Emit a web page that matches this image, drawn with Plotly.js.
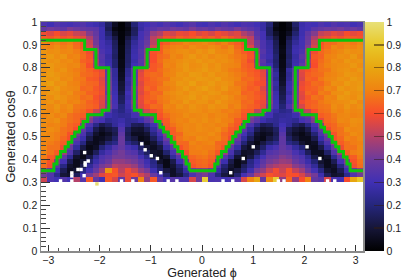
<!DOCTYPE html>
<html><head><meta charset="utf-8">
<script src="https://cdn.plot.ly/plotly-3.0.1.min.js"></script>
<style>html,body{margin:0;padding:0;background:#fff}#c{width:413px;height:280px}</style>
</head><body><div id="c"></div>
<script>
// efficiency in percent, rows from cos=0.98-1.00 (top) down to 0.30-0.32 (bottom); 50 phi bins
const r00=[33,30,34,32,31,33,34,31,29,26,16,6,1,6,19,28,30,33,31,34,32,30,33,35,31,30,33,31,34,32,30,33,32,30,27,19,5,1,4,17,28,31,30,33,31,34,32,33,30,32];
const r01=[38,41,39,37,42,40,38,37,36,29,14,3,1,4,15,27,33,36,39,38,41,40,38,42,39,40,37,41,39,38,42,38,36,33,27,16,3,1,3,14,29,31,36,38,40,39,41,38,40,37];
const r02=[59,56,60,55,57,53,51,43,38,29,18,7,2,6,16,31,35,46,49,56,54,58,57,60,56,58,55,59,57,54,56,49,45,35,31,16,7,2,6,18,29,37,43,52,54,57,55,60,57,59];
const r03=[63,61,64,60,62,59,57,49,40,29,22,12,2,11,21,31,37,51,55,61,59,63,61,62,64,61,63,60,64,61,58,55,51,37,31,21,11,2,12,22,30,39,49,57,59,62,60,63,62,61];
const r04=[71,68,70,67,69,65,61,53,41,31,26,15,2,14,25,33,39,51,60,63,67,68,71,69,70,72,69,67,70,66,63,59,52,41,33,26,14,2,15,25,31,40,53,61,65,66,69,70,68,71];
const r05=[72,70,73,69,71,66,62,55,43,31,28,16,3,15,27,33,41,54,63,67,70,71,69,73,71,70,73,71,68,72,65,61,56,42,33,27,15,3,16,28,31,43,55,62,66,71,69,72,70,73];
const r06=[75,73,74,71,72,69,65,59,47,33,29,17,3,16,28,35,45,61,63,69,71,73,74,72,75,73,76,72,71,73,67,63,60,46,35,28,16,4,17,29,33,47,59,65,68,70,72,75,73,74];
const r07=[74,76,73,75,70,71,66,61,45,35,27,16,3,17,29,34,47,60,65,67,72,70,74,76,73,75,72,74,73,70,68,66,61,48,33,29,18,3,16,27,36,44,62,64,70,71,74,73,76,72];
const r08=[76,74,75,72,73,70,64,62,48,34,28,18,4,17,28,36,46,60,66,70,71,73,75,74,76,74,75,73,74,72,69,65,59,46,36,27,17,4,18,28,34,48,61,66,69,73,72,76,74,75];
const r09=[75,76,74,73,71,72,67,60,47,36,29,18,4,18,30,35,48,62,64,71,70,74,76,73,74,76,73,75,72,71,70,64,62,49,34,30,18,4,17,29,37,46,60,67,70,72,73,74,76,73];
const r10=[74,76,73,75,71,69,67,64,61,57,37,25,5,23,39,55,63,62,66,69,71,73,76,74,75,77,74,75,72,69,68,65,63,61,56,39,23,5,26,38,57,61,64,67,68,72,74,75,73,76];
const r11=[75,77,75,73,72,70,66,65,63,58,39,25,6,24,38,57,64,66,65,70,71,75,74,77,76,74,76,73,74,71,69,67,64,62,57,37,26,6,24,40,56,63,65,66,70,71,73,76,75,74];
const r12=[77,75,76,72,73,69,68,63,62,56,40,26,7,27,39,58,62,65,67,68,73,74,76,75,77,76,75,77,73,72,70,65,66,63,58,38,24,7,25,41,55,64,63,68,71,72,75,74,77,75];
const r13=[76,78,74,75,71,70,67,65,64,57,41,27,9,25,40,56,63,64,66,71,72,76,75,78,74,75,77,74,75,73,68,67,64,61,59,40,27,8,28,39,58,62,66,65,69,74,73,77,75,76];
const r14=[75,74,77,73,72,71,65,66,62,58,42,28,10,27,43,57,65,63,68,69,71,74,77,74,76,78,75,73,76,71,70,66,63,64,56,41,25,11,29,41,59,63,64,67,72,70,76,74,75,77];
const r15=[74,76,75,72,74,69,68,64,63,59,40,29,12,30,42,56,62,66,65,72,73,75,73,76,75,74,76,75,72,70,71,64,65,62,58,43,28,12,27,42,57,65,63,69,68,73,74,77,74,75];
const r16=[75,73,76,74,71,70,66,67,61,57,44,30,15,28,41,58,63,65,68,70,72,74,75,77,74,76,74,73,75,72,69,67,65,63,59,42,29,14,31,43,56,62,67,66,71,70,76,75,73,76];
const r17=[73,75,72,74,70,71,68,64,62,56,42,31,16,30,44,57,64,62,67,69,73,72,76,73,75,75,72,76,73,71,70,65,66,61,58,44,30,16,29,41,59,63,64,68,70,72,73,74,76,72];
const r18=[74,72,75,71,73,68,67,65,63,55,43,32,20,29,42,56,61,66,65,71,70,74,72,75,73,72,75,73,74,69,71,66,64,62,57,41,31,19,33,44,55,63,65,67,68,73,71,75,72,74];
const r19=[73,71,74,70,72,67,65,61,53,50,35,25,21,27,33,48,54,59,63,69,70,71,72,74,73,71,73,72,69,70,68,63,62,51,52,33,27,22,24,36,49,52,60,66,67,72,70,73,71,72];
const r20=[71,73,70,72,67,65,63,47,37,34,29,26,24,25,31,32,39,45,61,66,69,70,73,71,72,73,70,72,71,68,67,61,45,39,32,31,24,25,26,29,34,37,47,63,65,68,71,72,70,71];
const r21=[73,72,74,69,67,65,57,43,34,31,24,26,28,24,25,29,36,41,59,63,69,71,70,73,72,74,71,73,70,69,63,59,41,36,29,25,24,27,26,24,31,34,43,57,65,67,72,71,74,73];
const r22=[73,70,71,69,65,63,43,33,22,13,17,25,31,24,15,14,23,31,41,62,67,70,72,71,73,71,72,70,71,66,62,41,33,23,14,16,23,30,25,17,13,22,32,43,63,65,69,70,73,72];
const r23=[71,73,71,67,65,60,37,27,13,7,11,15,34,16,9,8,15,26,36,61,63,69,72,71,73,72,71,73,68,63,61,36,26,14,8,10,16,32,15,10,7,13,27,37,59,65,67,73,71,72];
const r24=[73,71,69,67,61,42,33,19,8,4,7,13,37,14,6,6,9,21,31,43,63,65,71,72,71,71,73,70,65,62,41,31,21,8,5,7,14,35,13,7,4,8,19,33,42,61,67,69,73,71];
const r25=[71,71,69,65,60,37,28,13,5,6,10,17,39,16,11,4,6,15,26,39,59,67,70,69,73,72,70,71,66,59,39,26,15,6,4,11,16,37,17,10,5,5,13,28,38,61,65,71,69,72];
const r26=[71,69,67,63,46,32,21,7,5,9,18,22,39,23,17,11,4,9,19,34,46,65,65,71,69,70,71,65,64,46,34,19,9,4,11,18,23,37,22,18,9,5,7,21,33,46,63,67,69,70];
const r27=[71,67,67,59,39,26,12,4,7,19,26,34,38,32,28,17,9,6,11,27,37,61,65,69,70,69,69,66,61,37,27,11,6,8,17,28,32,38,34,26,19,7,5,12,26,39,59,67,67,71];
const r28=[71,67,63,47,34,17,6,6,15,26,32,38,41,36,34,24,16,8,7,18,32,45,61,69,69,70,67,62,46,32,18,7,8,15,24,34,36,39,38,32,26,15,6,6,17,34,47,63,69,71];
const r29=[69,63,59,37,24,8,4,12,24,33,36,41,41,39,38,31,23,11,5,9,25,35,57,65,67,68,65,57,35,25,9,5,11,23,31,38,39,43,41,36,33,24,12,4,8,24,37,59,63,69];
const r30=[67,61,43,31,14,5,9,19,28,35,39,45,45,43,41,36,29,21,8,4,13,29,41,63,65,66,63,41,29,13,4,8,21,29,36,41,43,46,45,39,35,28,19,9,5,14,31,43,61,67];
const r31=[66,59,36,21,8,5,13,25,34,41,44,51,49,49,46,39,32,23,15,4,9,19,34,61,64,65,61,35,19,9,4,15,23,32,39,46,49,51,51,44,41,34,25,13,5,8,21,36,59,66];
const r32=[46,39,29,14,6,9,21,31,39,47,75,61,51,59,53,45,41,29,19,11,7,15,27,41,44,45,41,27,15,7,11,19,29,41,45,53,59,53,61,52,47,39,31,21,9,6,14,29,39,46];
const r33=[41,34,23,10,8,15,29,41,47,56,61,62,54,58,61,54,49,39,31,17,7,11,21,33,39,42,33,21,11,7,17,31,39,49,54,61,58,56,61,60,55,47,41,29,15,8,10,23,34,41];
const r34=[54,33,30,34,30,50,35,62,38,30,62,55,38,58,40,70,45,62,38,30,35,33,33,55,40,92,32,33,30,32,34,55,70,80,38,72,92,45,65,45,60,70,38,35,55,33,30,60,80,90];
const rowsTopDown=[r00,r01,r02,r03,r04,r05,r06,r07,r08,r09,r10,r11,r12,r13,r14,r15,r16,r17,r18,r19,r20,r21,r22,r23,r24,r25,r26,r27,r28,r29,r30,r31,r32,r33,r34];

// small empty bins inside the dark lobes and notches along the lower edge
const holePhi=[-2.29,-2.22,-2.28,-2.28,-2.42,-2.36,-2.30,-2.54,-2.54,-1.175,-1.11,-.99,-.87,-.805,1.0,.805,.56,2.05,2.30, -2.76,-2.54,-1.57,-1.35,-.66,-.49,.41,.60,1.49,1.60,2.45,2.59];
const holeCos=[.43,.393,.385,.375,.356,.356,.329,.341,.328,.468,.442,.416,.404,.342,.455,.404,.342,.455,.404, .306,.306,.306,.306,.306,.306,.306,.306,.306,.306,.306,.306];
// a lone high bin below the main block
const strayPhi=[-2.05];
const strayCos=[.293];

// green contour, three pieces
const leftPhi=[-3.14,-2.29,-2.29,-2.07,-2.07,-1.82,-1.82,-1.95,-1.95,-2.23,-2.23,-2.32,-2.32,-2.39,-2.39,-2.48,-2.48,-2.54,-2.54,-2.61,-2.61,-2.67,-2.67,-2.76,-2.76,-2.83,-2.83,-2.89,-2.89,-3.14];
const leftCos=[.92,.92,.88,.88,.80,.80,.615,.615,.595,.595,.565,.565,.54,.54,.52,.52,.50,.50,.475,.475,.455,.455,.435,.435,.41,.41,.38,.38,.35,.35];
const midPhi=[-.25,-.25,-.31,-.31,-.38,-.38,-.47,-.47,-.53,-.53,-.60,-.60,-.66,-.66,-.75,-.75,-.82,-.82,-.91,-.91,-1.19,-1.19,-1.32,-1.32,-1.07,-1.07,-.85,-.85,.85,.85,1.07,1.07,1.32,1.32,1.19,1.19,.91,.91,.82,.82,.75,.75,.66,.66,.60,.60,.53,.53,.47,.47,.38,.38,.31,.31,.25,.25,-.25];
const midCos=[.35,.38,.38,.41,.41,.435,.435,.455,.455,.475,.475,.50,.50,.52,.52,.54,.54,.565,.565,.595,.595,.615,.615,.80,.80,.88,.88,.92,.92,.88,.88,.80,.80,.615,.615,.595,.595,.565,.565,.54,.54,.52,.52,.50,.50,.475,.475,.455,.455,.435,.435,.41,.41,.38,.38,.35,.35];
const rightPhi=[3.14,2.29,2.29,2.07,2.07,1.82,1.82,1.95,1.95,2.23,2.23,2.32,2.32,2.39,2.39,2.48,2.48,2.54,2.54,2.61,2.61,2.67,2.67,2.76,2.76,2.83,2.83,2.89,2.89,3.14];
const rightCos=leftCos;

const tickPhi=[-3,-2,-1,0,1,2,3];
const tickCos=[0,.1,.2,.3,.4,.5,.6,.7,.8,.9,1];
const palette=[[0,'#000000'],[.1,'#161638'],[.2,'#25267c'],[.3,'#4030b4'],[.4,'#6c3a9c'],[.5,'#b44068'],[.6,'#f84c2c'],[.7,'#f08212'],[.8,'#e8a610'],[.9,'#e8c828'],[1,'#e8e078']];

const z=rowsTopDown.slice().reverse().map(r=>r.map(v=>v/100));
const PI=Math.PI;
const line={color:'#0cc40c',width:3,shape:'linear'};
const font={family:'"Liberation Sans",Arial,sans-serif',size:10.5,color:'#222'};
const traces=[
 {type:'heatmap',z:z,x0:-PI+PI/50,dx:PI/25,y0:.31,dy:.02,zmin:0,zmax:1,colorscale:palette,zsmooth:false,hoverongaps:false,
  colorbar:{x:.871,xanchor:'left',y:.5,yanchor:'middle',len:1,lenmode:'fraction',thickness:19,thicknessmode:'pixels',xpad:0,ypad:0,outlinewidth:0,borderwidth:0,
   ticks:'inside',ticklen:10,tickwidth:1.3,tickcolor:'rgba(50,30,20,.55)',tickvals:tickCos,tickfont:font}},
 {type:'scatter',mode:'markers',x:holePhi,y:holeCos,marker:{symbol:'square',size:3.4,color:'#fff',line:{width:0}},showlegend:false},
 {type:'scatter',mode:'markers',x:strayPhi,y:strayCos,marker:{symbol:'square',size:3.4,color:'#e8dc70',line:{width:0}},showlegend:false},
 {type:'scatter',mode:'lines',x:leftPhi,y:leftCos,line:line,showlegend:false},
 {type:'scatter',mode:'lines',x:midPhi,y:midCos,line:line,showlegend:false},
 {type:'scatter',mode:'lines',x:rightPhi,y:rightCos,line:line,showlegend:false}
];
const layout={width:413,height:280,margin:{l:41,r:0,t:21.5,b:28.5,pad:0},paper_bgcolor:'#fff',plot_bgcolor:'#fff',font:font,showlegend:false,
 xaxis:{domain:[0,.8656],range:[-PI,PI],tickvals:tickPhi,ticks:'inside',ticklen:6,tickwidth:1,tickcolor:'#333',showgrid:false,zeroline:false,showline:true,linecolor:'#8a8a8a',linewidth:1.5,mirror:true,ticklabelstandoff:-1,
  minor:{dtick:.2,tick0:0,ticks:'inside',ticklen:3,tickwidth:1,tickcolor:'#555',showgrid:false},tickfont:font,
  title:{text:'Generated \u03d5',font:{family:font.family,size:12.5,color:'#222'},standoff:3}},
 yaxis:{range:[0,1],tickvals:tickCos,ticks:'inside',ticklen:9,tickwidth:1,tickcolor:'#333',showgrid:false,zeroline:false,showline:true,linecolor:'#8a8a8a',linewidth:1.5,mirror:true,
  minor:{dtick:.02,tick0:0,ticks:'inside',ticklen:4.5,tickwidth:1,tickcolor:'#444',showgrid:false},tickfont:font,
  title:{text:'Generated cos\u03b8',font:{family:font.family,size:13,color:'#222'},standoff:4}}
};
Plotly.newPlot('c',traces,layout,{displayModeBar:false,staticPlot:true});
</script></body></html>
